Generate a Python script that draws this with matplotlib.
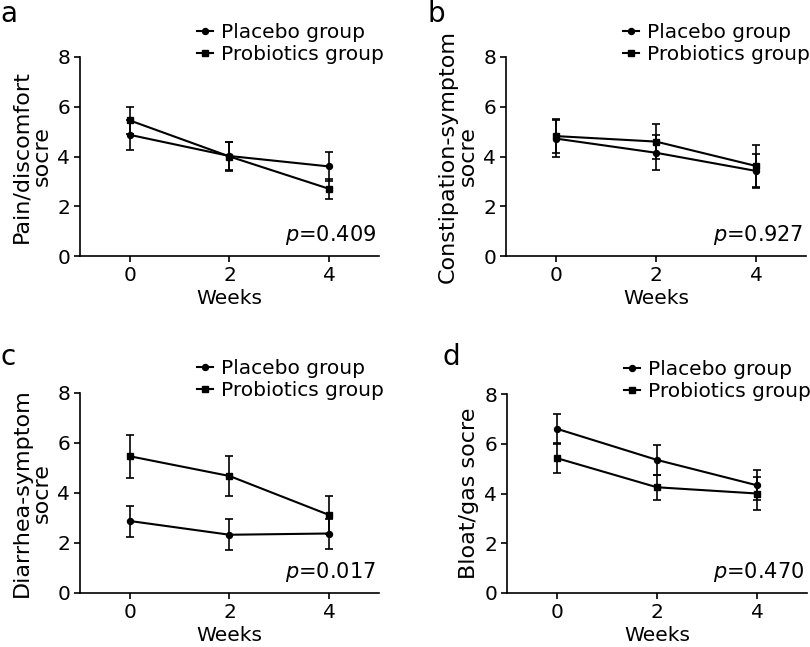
import matplotlib
matplotlib.use("Agg")
import matplotlib.pyplot as plt
from matplotlib.lines import Line2D

weeks = [0, 2, 4]

# Panel a: Pain/discomfort
a_placebo = [4.87, 4.02, 3.60]
a_placebo_err = [0.60, 0.55, 0.57]
a_probio = [5.45, 4.00, 2.70]
a_probio_err = [0.55, 0.60, 0.40]

# Panel b: Constipation
b_placebo = [4.72, 4.15, 3.42]
b_placebo_err = [0.75, 0.70, 0.68]
b_probio = [4.82, 4.60, 3.62]
b_probio_err = [0.68, 0.70, 0.86]

# Panel c: Diarrhea
c_placebo = [2.88, 2.33, 2.38]
c_placebo_err = [0.62, 0.62, 0.60]
c_probio = [5.47, 4.68, 3.12]
c_probio_err = [0.86, 0.80, 0.76]

# Panel d: Bloat/gas
d_placebo = [6.60, 5.35, 4.33]
d_placebo_err = [0.60, 0.60, 0.60]
d_probio = [5.42, 4.25, 4.00]
d_probio_err = [0.60, 0.50, 0.68]

panels = [
    ("a", "Pain/discomfort\nsocre", "0.409", a_placebo, a_placebo_err, a_probio, a_probio_err),
    ("b", "Constipation-symptom\nsocre", "0.927", b_placebo, b_placebo_err, b_probio, b_probio_err),
    ("c", "Diarrhea-symptom\nsocre", "0.017", c_placebo, c_placebo_err, c_probio, c_probio_err),
    ("d", "Bloat/gas socre", "0.470", d_placebo, d_placebo_err, d_probio, d_probio_err),
]

plt.rcParams['font.family'] = ['DejaVu Sans']
fig = plt.figure(figsize=(8.10, 6.47), dpi=100)
W, H = 810, 647

# axes boxes in pixels: left, top, right, bottom
boxes = [
    (80, 57, 379, 256),
    (506, 57, 806, 256),
    (80, 393, 379, 593),
    (507, 394, 807, 593),
]
letter_pos = [(0, 0), (427, 0), (0, 343), (442, 343)]

fs = 14.5
lfs = 16
ms = 4.3
for (letter, ylabel, pval, pl, ple, pr, pre), (l, t, r, b), (lx, ly) in zip(panels, boxes, letter_pos):
    ax = fig.add_axes([l / W, 1 - b / H, (r - l) / W, (b - t) / H])
    ax.errorbar(weeks, pl, yerr=ple, color='black', marker='o', markersize=ms,
                lw=1.5, capsize=2.7, elinewidth=1.2, capthick=1.2)
    ax.errorbar(weeks, pr, yerr=pre, color='black', marker='s', markersize=ms,
                lw=1.5, capsize=2.7, elinewidth=1.2, capthick=1.2)
    ax.set_xlim(-1, 5)
    ax.set_ylim(0, 8)
    ax.set_xticks([0, 2, 4])
    ax.set_yticks([0, 2, 4, 6, 8])
    for s in ['top', 'right']:
        ax.spines[s].set_visible(False)
    for s in ['left', 'bottom']:
        ax.spines[s].set_linewidth(1.2)
    ax.tick_params(direction='out', length=4, width=1.2, labelsize=fs, pad=3)
    ax.set_xlabel("Weeks", fontsize=fs, labelpad=3)
    ax.set_ylabel(ylabel, fontsize=lfs, labelpad=4, linespacing=1.0)
    ax.text(0.99, 0.075, r"$\mathit{p}$=" + pval, transform=ax.transAxes,
            ha='right', va='baseline', fontsize=fs + 0.5)
    handles = [
        Line2D([], [], color='black', marker='o', markersize=ms, lw=1.5),
        Line2D([], [], color='black', marker='s', markersize=ms, lw=1.5),
    ]
    ax.legend(handles, ["Placebo group", "Probiotics group"], loc='lower left',
              bbox_to_anchor=(0.39, 0.965), frameon=False, fontsize=fs,
              handlelength=0.8, handletextpad=0.4, borderpad=0, borderaxespad=0,
              labelspacing=0.15)
    fig.text(lx / W, 1 - ly / H, letter, fontsize=20, ha='left', va='top')

fig.savefig("out.png", dpi=100)
